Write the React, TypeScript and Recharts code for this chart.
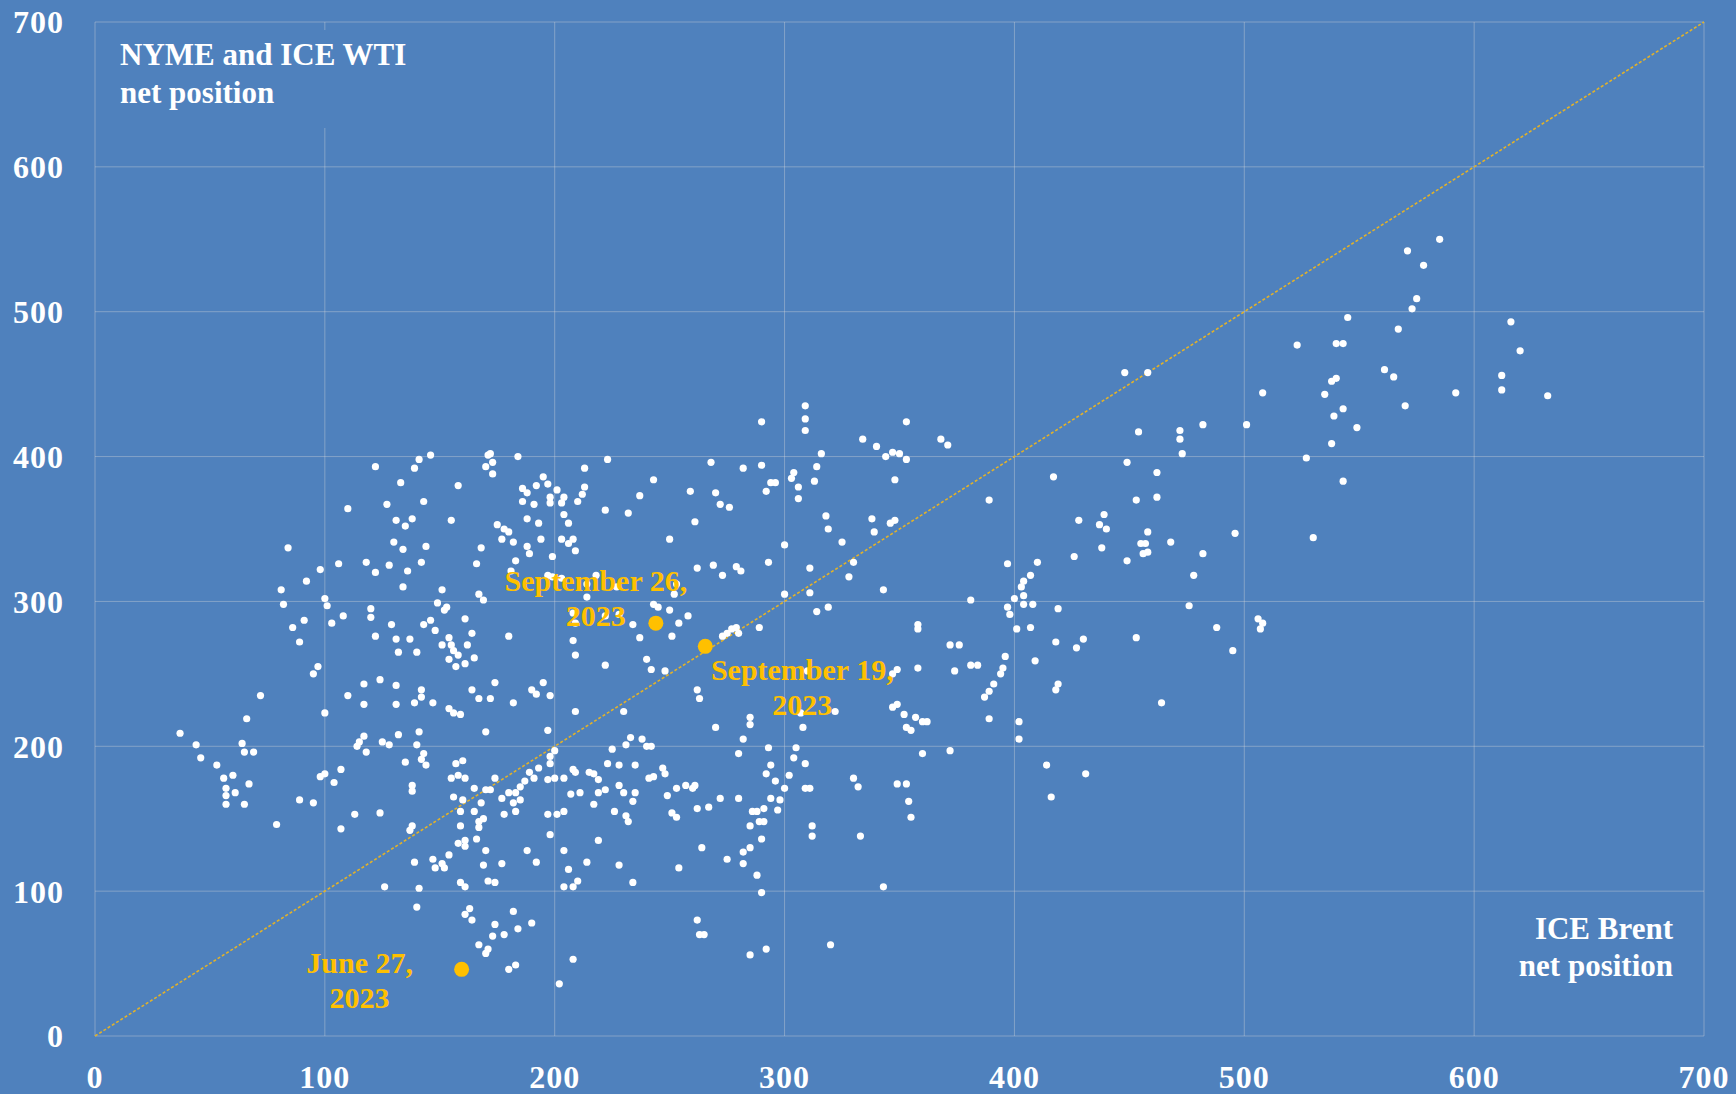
import React from "react";
import {
  ScatterChart,
  Scatter,
  XAxis,
  YAxis,
  CartesianGrid,
  ReferenceLine,
} from "recharts";

// Weekly net positions (thousand contracts): [ICE Brent, NYMEX + ICE WTI]
const band0to100: [number, number][] = [
  [37,209],[44,201],[46,192],[53,187],[56,178],[57,171],[57,166],[57,160],[60,180],[61,168],[64,202],[65,196],[65,160],[67,174],[66,219],[69,196],[72,235],[79,146],
  [81,308],[82,298],[84,337],[86,282],[89,272],[91,287],[92,314],[95,250],[97,255],[98,322],[100,302],[101,297],[103,285],[89,163],[95,161],[98,179],[100,181],[104,175],[100,223],
];
const band100to140: [number, number][] = [
  [106,326],[110,364],[108,290],[107,143],[110,235],[113,153],[115,203],[118,196],[114,200],[107,184],[117,207],[117,229],[117,243],[118,327],[120,295],[120,289],[122,320],[122,276],[122,393],[124,246],[124,154],[125,203],[126,103],[127,367],[128,325],[128,201],[129,284],[130,341],[131,356],[131,274],[131,242],[131,229],[132,265],[132,208],[133,382],[134,336],[134,310],[135,352],[135,189],[136,321],[137,274],[138,357],[138,173],[138,169],[138,145],[137,142],[139,392],[139,230],[139,120],[140,265],[140,201],[140,89],
];
const band140to160: [number, number][] = [
  [141,398],[141,210],[141,102],[142,327],[142,239],[142,234],[142,191],[143,369],[143,284],[143,195],[144,338],[144,187],[146,401],[146,287],[147,230],[147,122],[148,280],[148,116],[149,299],[151,308],[151,270],[151,119],[152,294],[152,116],[153,296],[154,275],[154,260],[154,226],[154,125],[155,356],[155,270],[155,178],[156,266],[156,223],[156,165],[157,255],[157,188],[158,380],[158,263],[158,180],[158,133],[159,222],[159,155],[159,145],[159,106],
];
const band160to180: [number, number][] = [
  [160,190],[160,163],[161,288],[161,257],[161,178],[161,135],[161,131],[161,103],[161,84],[162,270],[163,88],[164,278],[164,239],[164,80],[165,261],[165,171],[165,155],[166,326],[166,136],[167,305],[167,233],[167,148],[167,144],[167,63],[168,337],[168,161],[169,301],[169,150],[169,118],[170,393],[170,210],[170,170],[170,128],[170,57],[171,401],[171,107],[171,60],[172,402],[172,233],[172,170],[173,396],[173,388],[173,69],[174,244],[174,178],[174,106],[174,77],[175,353],[177,343],[177,164],[177,119],[178,350],[178,153],[178,70],
];
const band180to200: [number, number][] = [
  [180,348],[180,276],[180,168],[180,46],[181,321],[182,341],[182,230],[182,161],[182,86],[183,328],[183,168],[183,155],[183,49],[184,400],[184,74],[185,172],[185,163],[186,378],[186,369],[187,176],[188,375],[188,357],[188,338],[188,128],[189,333],[189,182],[190,239],[190,78],[191,367],[191,178],[192,380],[192,236],[192,120],[193,354],[193,185],[194,343],[195,386],[195,244],[197,381],[197,318],[197,211],[197,177],[197,153],[198,372],[198,368],[198,235],[198,193],[198,188],[198,139],[199,331],[199,317],
];
const band200to220: [number, number][] = [
  [200,197],[200,178],[201,377],[201,153],[202,36],[203,368],[203,343],[203,316],[204,372],[204,360],[204,178],[204,155],[204,128],[204,103],[206,354],[206,340],[206,115],[207,167],[208,343],[208,292],[208,273],[208,184],[208,103],[208,53],[209,335],[209,285],[209,263],[209,224],[209,182],[210,369],[210,107],[211,168],[212,374],[213,379],[213,392],[214,312],[214,303],[214,120],[215,182],[217,181],[217,160],[218,318],[219,177],[219,168],[219,135],
];
const band220to250: [number, number][] = [
  [222,363],[222,290],[222,256],[222,170],[223,398],[223,188],[225,198],[226,155],[227,310],[228,291],[228,187],[228,173],[228,118],[230,224],[230,168],[231,201],[231,152],[232,361],[232,148],[233,206],[234,284],[234,162],[234,106],[235,187],[235,168],[237,373],[237,275],[238,205],[240,260],[240,200],[241,178],[242,253],[242,200],[243,384],[243,298],[243,179],[245,296],[247,185],[248,252],[248,181],[249,166],
];
const band250to280: [number, number][] = [
  [250,294],[250,343],[251,276],[251,154],[252,305],[253,312],[253,171],[253,151],[254,285],[254,116],[257,173],[258,290],[259,376],[260,171],[261,355],[261,173],[262,323],[262,239],[262,157],[262,80],[263,233],[263,70],[264,130],[265,70],[267,158],[268,396],[269,325],[270,375],[270,213],[272,367],[272,164],[273,318],[273,276],[275,278],[275,122],[276,365],[277,281],[279,282],[279,324],[280,278],[280,195],[280,164],
];
const band280to300: [number, number][] = [
  [281,321],[282,392],[282,205],[282,127],[282,119],[285,215],[285,220],[285,145],[285,130],[285,56],[286,155],[288,155],[288,111],[289,282],[289,148],[290,424],[290,394],[290,136],[290,99],[291,157],[291,148],[292,376],[292,181],[292,60],[293,327],[293,199],[294,382],[294,187],[294,164],[296,382],[296,176],[297,156],[298,163],
];
const band300to340: [number, number][] = [
  [300,305],[300,339],[300,171],[302,180],[303,385],[304,389],[304,192],[305,199],[306,379],[306,371],[307,223],[308,213],[309,435],[309,426],[309,418],[309,188],[309,171],[310,252],[311,323],[311,306],[311,171],[312,145],[312,138],[313,383],[314,393],[314,293],[316,402],[318,359],[319,350],[319,296],[320,63],[322,224],[325,341],[328,317],[330,327],[330,178],[332,172],[333,138],[334,412],[338,357],[339,348],
];
const band340to380: [number, number][] = [
  [340,407],[343,308],[343,103],[344,400],[346,354],[347,403],[347,250],[347,227],[348,384],[348,356],[349,253],[349,229],[349,174],[350,402],[352,222],[353,424],[353,398],[353,213],[353,174],[354,162],[355,211],[355,151],[357,220],[358,284],[358,281],[358,254],[360,217],[360,195],[362,217],[368,412],[371,408],[372,270],[372,197],[374,252],[376,270],
];
const band380to420: [number, number][] = [
  [381,301],[381,256],[384,256],[387,234],[389,370],[389,238],[389,219],[391,243],[394,250],[395,254],[396,262],[397,326],[397,296],[398,291],[400,302],[401,281],[402,217],[402,205],[403,310],[404,314],[404,304],[404,298],[407,318],[407,282],[408,298],[409,259],[410,327],[414,187],[416,165],[417,386],[418,272],[418,239],[419,295],[419,243],
];
const band420to480: [number, number][] = [
  [426,331],[427,268],[428,356],[430,274],[431,181],[437,353],[438,337],[439,360],[440,350],[448,458],[449,396],[449,328],[453,370],[453,275],[454,417],[455,340],[456,333],[457,340],[458,458],[458,348],[458,334],[462,389],[462,372],[464,230],[468,341],[472,418],[472,412],[473,402],[476,297],[478,318],
];
const band480to640: [number, number][] = [
  [482,422],[482,333],[488,282],[495,266],[496,347],[501,422],[506,288],[507,281],[508,285],[508,444],[523,477],[527,399],[530,344],[535,443],[538,452],[538,409],[539,428],[540,454],[540,478],[543,478],[543,433],[543,383],[545,496],[549,420],[561,460],[565,455],[567,488],[570,435],[571,542],[573,502],[575,509],[578,532],[585,550],[592,444],[612,456],[612,446],[616,493],[620,473],[632,442],
];

const highlightDates = ["June 27,", "September 26,", "September 19,"];
const highlightBrent = [159.5, 244, 265.5];
const highlightWti = [46, 285, 269];

const axisTicks = [0, 100, 200, 300, 400, 500, 600, 700];

const allBands = [
  band0to100, band100to140, band140to160, band160to180, band180to200, band200to220,
  band220to250, band250to280, band280to300, band300to340, band340to380, band380to420,
  band420to480, band480to640,
];
const weeklyPoints = allBands.flat().map(([x, y]) => ({ x, y }));
const highlightPoints = highlightDates.map((d, i) => ({ x: highlightBrent[i], y: highlightWti[i], date: d }));

// label placement (pixels relative to the dot), kept apart from the data
const labelOffsets: Record<string, { dx: number; dy: number }> = {
  "June 27,": { dx: -102, dy: -7 },
  "September 26,": { dx: -60, dy: -43 },
  "September 19,": { dx: 97, dy: 23 },
};

const BG = "#4F81BD";
const GOLD = "#FFC000";
const FONT = "'Liberation Serif', 'Times New Roman', serif";

const WhiteDot = (props: any) => {
  const { cx, cy } = props;
  if (cx == null || cy == null) return null;
  return <circle cx={cx} cy={cy} r={3.6} fill="#FFFFFF" />;
};

const GoldDot = (props: any) => {
  const { cx, cy, payload } = props;
  if (cx == null || cy == null) return null;
  const off = labelOffsets[payload.date] || { dx: 0, dy: 0 };
  const tx = cx + off.dx;
  const ty = cy + off.dy;
  return (
    <g>
      <circle cx={cx} cy={cy} r={7.5} fill={GOLD} />
      <text x={tx} y={ty} dy="0.35em" textAnchor="middle" fill={GOLD} fontFamily={FONT} fontSize={30} fontWeight={700}>
        {payload.date}
      </text>
      <text x={tx} y={ty + 35} dy="0.35em" textAnchor="middle" fill={GOLD} fontFamily={FONT} fontSize={30} fontWeight={700}>
        2023
      </text>
    </g>
  );
};

const tickStyle = { fill: "#FFFFFF", fontFamily: FONT, fontSize: 32, fontWeight: 700, letterSpacing: 1 };

export default function App() {
  return (
    <div style={{ position: "absolute", left: 0, top: 0, width: 1736, height: 1094, background: BG, overflow: "hidden" }}>
      <ScatterChart width={1736} height={1094} margin={{ top: 22, right: 32, bottom: 0, left: 0 }}>
        <CartesianGrid stroke="#D9D9D9" strokeOpacity={0.38} strokeWidth={1} />
        <XAxis
          type="number"
          dataKey="x"
          domain={[0, 700]}
          ticks={axisTicks}
          axisLine={false}
          tickLine={false}
          tickSize={0}
          tickMargin={29}
          height={58}
          tick={tickStyle}
          interval={0}
        />
        <YAxis
          type="number"
          dataKey="y"
          domain={[0, 700]}
          ticks={axisTicks}
          axisLine={false}
          tickLine={false}
          tickSize={0}
          tickMargin={31}
          width={95}
          tick={tickStyle}
          interval={0}
        />
        <ReferenceLine
          segment={[{ x: 0, y: 0 }, { x: 700, y: 700 }]}
          stroke="#E2B22A"
          strokeWidth={1.6}
          strokeDasharray="3 2"
        />
        <Scatter data={weeklyPoints} shape={WhiteDot} isAnimationActive={false} />
        <Scatter data={highlightPoints} shape={GoldDot} isAnimationActive={false} />
      </ScatterChart>
      <div
        style={{
          position: "absolute",
          left: 110,
          top: 30,
          width: 330,
          height: 98,
          paddingLeft: 10,
          paddingTop: 6,
          boxSizing: "border-box",
          background: BG,
          color: "#FFFFFF",
          fontFamily: FONT,
          fontWeight: 700,
          fontSize: 31,
          lineHeight: "38px",
          whiteSpace: "nowrap",
        }}
      >
        NYME and ICE WTI
        <br />
        net position
      </div>
      <div
        style={{
          position: "absolute",
          left: 1413,
          top: 910,
          width: 260,
          textAlign: "right",
          color: "#FFFFFF",
          fontFamily: FONT,
          fontWeight: 700,
          fontSize: 31,
          lineHeight: "37px",
          whiteSpace: "nowrap",
        }}
      >
        ICE Brent
        <br />
        net position
      </div>
    </div>
  );
}
